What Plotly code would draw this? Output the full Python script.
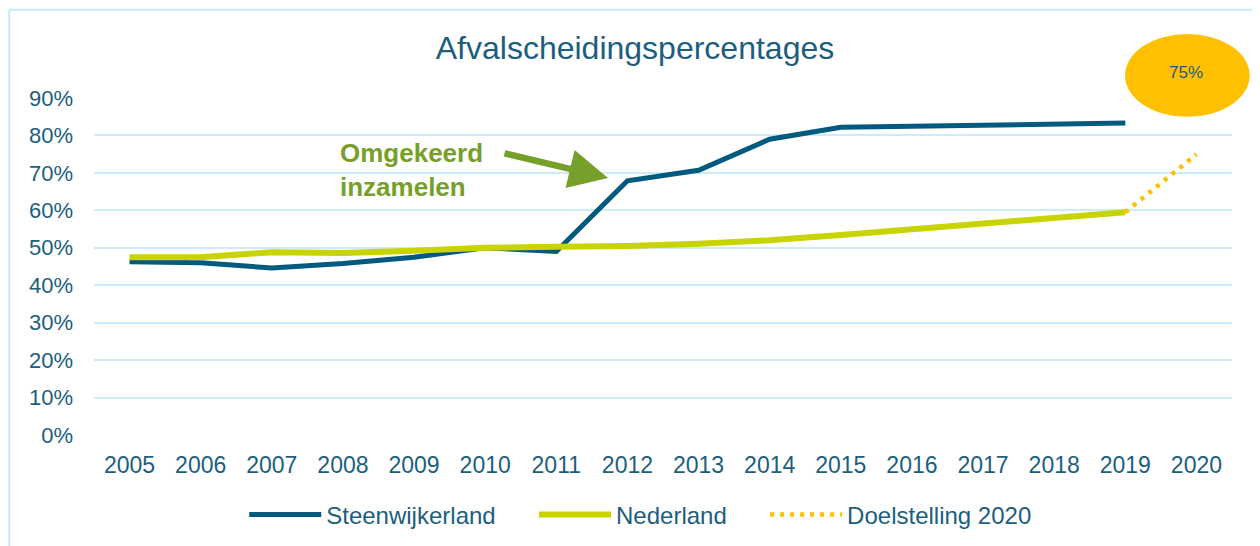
import plotly.graph_objects as go

years = [str(y) for y in range(2005, 2021)]
steenwijkerland = [0.463, 0.460, 0.446, 0.458, 0.475, 0.500, 0.490, 0.679, 0.707, 0.790, 0.822,
                   0.825, 0.827, 0.829, 0.833, None]
nederland = [0.475, 0.475, 0.488, 0.486, 0.492, 0.500, 0.503, 0.505, 0.511, 0.520, 0.534,
             0.550, 0.566, 0.581, 0.595, None]
doel_years = ["2019", "2020"]
doelstelling = [0.595, 0.75]

TEAL = "#005a7f"
TEXT = "#1b5e7e"
GRID = "#cdebf9"
PAD = "\u00a0" * 5  # spacing between legend entries

fig = go.Figure()
fig.add_trace(go.Scatter(x=years, y=steenwijkerland, name="Steenwijkerland" + PAD, mode="lines",
                         line=dict(color=TEAL, width=5)))
fig.add_trace(go.Scatter(x=years, y=nederland, name="Nederland" + PAD, mode="lines",
                         line=dict(color="#c8d400", width=6)))
fig.add_trace(go.Scatter(x=doel_years, y=doelstelling, name="Doelstelling 2020", mode="lines",
                         line=dict(color="#ffc000", width=4.5, dash="4px,6px")))

# outer frame (only left/top visible in the crop)
fig.add_shape(type="line", xref="paper", yref="paper", x0=-0.0745, x1=-0.0745, y0=1.262, y1=-0.35,
              line=dict(color="#c6e9f9", width=2))
fig.add_shape(type="line", xref="paper", yref="paper", x0=-0.0745, x1=1.05, y0=1.262, y1=1.262,
              line=dict(color="#c6e9f9", width=2))

# target bubble
fig.add_shape(type="circle", xref="paper", yref="paper", x0=0.906, x1=1.0155, y0=0.944, y1=1.19,
              fillcolor="#ffc000", line=dict(color="#ffc000", width=0))
fig.add_annotation(xref="paper", yref="paper", x=0.9595, y=1.075, xanchor="center", yanchor="middle",
                   text="75%", showarrow=False, font=dict(size=17, color=TEXT))

fig.add_annotation(xref="paper", yref="paper", x=0.2144, y=0.786, xanchor="left", yanchor="middle",
                   align="left", text="<b>Omgekeerd<br>inzamelen</b>", showarrow=False,
                   font=dict(size=26, color="#76a02a"))
fig.add_annotation(xref="paper", yref="paper", x=0.4517, y=0.7626, text="", showarrow=True,
                   ax=-105, ay=-25, arrowhead=2, arrowsize=1.2, arrowwidth=6.5, arrowcolor="#76a02a")

fig.update_layout(
    width=1260, height=546,
    margin=dict(l=86, r=36, t=90, b=119),
    paper_bgcolor="white", plot_bgcolor="white",
    font=dict(family="Liberation Sans, Arial, sans-serif", color=TEXT, size=23),
    title=dict(text="Afvalscheidingspercentages", xref="paper", x=0.4754, xanchor="center",
               y=0.928, yanchor="middle", font=dict(size=32, color=TEXT)),
    showlegend=True,
    legend=dict(orientation="h", x=0.48, xanchor="center", y=-0.237, yanchor="middle",
                font=dict(size=24, color=TEXT), itemwidth=72),
)
fig.update_xaxes(type="category", range=[-0.5, 15.5], showgrid=False, showline=False, zeroline=False,
                 tickfont=dict(size=23, color=TEXT), ticks="", ticklabelstandoff=14)
fig.update_yaxes(range=[0, 0.9], dtick=0.1, tickformat=".0%", showgrid=True, gridcolor=GRID, gridwidth=2,
                 zeroline=False, showline=False, tickfont=dict(size=22, color=TEXT), ticks="",
                 ticklabelstandoff=20)

fig.write_html("out.html")
